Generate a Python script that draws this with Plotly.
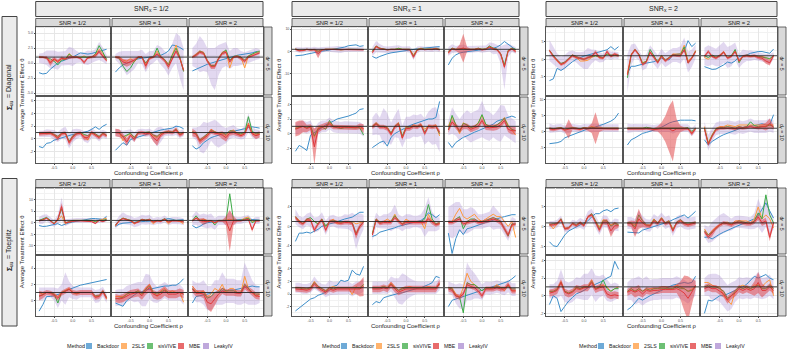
import plotly.graph_objects as go

# ---------------- data ----------------
RHO = [-0.9, -0.8, -0.7, -0.6, -0.5, -0.4, -0.3, -0.2, -0.1, 0.0,
       0.1, 0.2, 0.3, 0.4, 0.5, 0.6, 0.7, 0.8, 0.9]
TRUE_EFFECT = 1.0
METHODS = ["Backdoor", "2SLS", "sisVIVE", "MBE", "LeakyIV"]
SIGMA_LABELS = ["Diagonal", "Toeplitz"]
SNRX_LABELS = ["1/2", "1", "2"]
SNR_LABELS = ["1/2", "1", "2"]
DY_LABELS = ["5", "10"]

# panel order: row (Diag d5, Diag d10, Toep d5, Toep d10) x column (SNRx 1/2,1,2 each with SNR 1/2,1,2)
BACKDOOR = [
 [-1.6,-1.8,-1.7,-1.0,-0.5,0.0,0.3,0.6,0.8,1.0,1.4,1.7,1.6,1.5,1.6,1.8,2.0,2.2,2.3],
 [-1.5,-0.8,-0.3,0.0,0.3,0.5,0.7,0.8,0.9,1.0,1.1,1.2,1.3,1.6,2.0,3.0,2.9,2.6,2.2],
 [-1.3,-1.0,-0.8,-0.5,-0.2,0.0,0.2,0.4,0.6,0.8,1.0,1.2,1.3,1.4,1.5,1.5,1.7,1.9,2.0],
 [-1.9,-1.8,-1.6,-1.2,-0.8,-0.5,-0.2,0.2,0.4,0.7,1.0,1.3,1.6,2.0,2.6,2.9,3.0,2.3,2.6],
 [-2.2,-3.0,-2.2,-1.5,-1.0,-0.6,-0.3,0.0,0.3,0.5,0.8,1.0,1.2,1.4,1.6,1.8,2.0,2.1,2.2],
 [-6.0,-3.0,-1.5,-0.7,-0.3,0.0,0.2,0.4,0.6,0.8,1.0,1.2,1.5,2.0,3.0,4.5,3.2,2.0,0.8],
 [-6.1,-5.6,-2.6,-3.2,-2.5,-1.5,-0.7,0.0,0.5,0.9,1.2,1.5,1.8,2.2,2.5,2.7,3.6,2.7,3.6],
 [-4.0,-2.0,-2.0,-1.8,-1.4,-1.1,-0.9,-0.7,-0.2,0.3,0.0,-0.2,1.2,1.5,1.7,2.3,5.3,3.6,4.6],
 [-2.1,-2.6,-2.9,-2.8,-2.3,-1.6,-0.8,-1.1,-0.5,0.8,1.0,1.2,1.7,2.0,2.2,2.2,2.0,1.7,2.9],
 [-1.2,-1.4,-0.7,-0.6,-0.2,0.0,0.2,0.4,0.6,0.7,0.8,0.9,1.0,1.2,1.5,1.9,1.5,2.0,2.3],
 [-1.8,-1.2,-0.6,-1.0,-0.1,0.1,0.3,0.5,0.7,0.9,1.1,1.3,1.4,1.5,1.6,1.7,2.0,1.9,1.6],
 [-1.1,-1.6,-1.3,-0.6,-0.2,0.2,0.4,0.6,0.8,1.0,1.1,1.2,1.3,1.4,1.6,1.8,1.9,1.8,1.7],
 [-2.4,-1.6,-1.9,-2.3,-0.2,0.1,0.5,0.8,1.2,1.4,1.7,2.0,2.1,2.3,2.4,2.6,2.8,3.3,3.4],
 [-1.9,-1.5,-1.2,-1.0,-1.7,-0.5,0.0,0.3,0.6,0.9,1.1,1.3,1.5,1.7,1.8,2.0,2.0,2.2,4.4],
 [-1.2,-1.9,-1.2,-0.8,-0.5,-0.3,0.0,0.2,0.4,0.6,0.9,1.1,1.3,1.7,1.9,2.0,2.3,2.4,2.2],
 [-3.8,-3.7,-3.5,-3.1,-2.0,-1.5,-1.0,-0.5,0.0,0.5,0.8,1.0,1.3,1.8,2.2,2.6,3.2,4.0,5.7],
 [-4.2,-2.6,-2.0,-1.2,-0.6,-0.3,0.0,0.4,0.8,1.3,2.0,2.6,3.0,3.3,3.5,3.5,3.6,3.5,3.3],
 [-2.6,-4.2,-3.1,-2.3,-1.6,-1.0,-0.5,0.0,0.5,0.8,1.2,1.5,1.7,1.8,2.0,2.4,2.0,2.0,5.2],
 [-1.2,-1.6,-1.5,-1.2,-0.8,-0.4,-1.2,-0.5,0.0,0.3,0.6,1.0,1.2,1.5,1.8,1.8,1.6,1.4,2.8],
 [-1.6,-0.6,-0.2,0.0,0.2,0.3,0.4,0.5,0.6,0.6,0.7,0.8,1.0,1.3,1.8,1.5,1.0,1.2,1.3],
 [-1.2,-2.2,-1.6,-0.5,0.0,0.3,0.5,0.7,0.8,0.9,1.0,1.2,1.3,1.5,1.6,1.6,1.4,1.2,1.1],
 [-3.1,-1.4,-1.4,-1.2,-1.4,-1.0,-0.6,0.0,0.3,0.5,0.7,1.0,1.2,1.5,1.7,1.9,2.4,2.9,2.9],
 [-2.1,-1.8,-1.2,-1.0,-0.8,-0.5,-0.3,0.0,0.2,0.3,0.5,0.8,1.0,1.2,1.8,2.8,2.4,1.8,2.4],
 [-1.4,-5.6,-2.5,-0.7,-1.7,-0.5,-0.3,0.0,0.2,0.5,0.8,1.0,1.3,1.5,1.8,2.0,2.2,2.4,2.4],
 [-3.7,-4.7,-4.9,-3.4,-2.0,-1.0,-0.5,0.0,0.5,1.0,1.5,2.5,3.3,3.3,4.0,4.3,3.8,4.5,4.7],
 [-1.3,-1.4,-1.5,-1.5,-0.8,-0.5,-0.2,0.0,0.4,0.7,1.0,1.3,1.8,2.3,2.6,3.0,2.2,3.0,3.9],
 [-2.6,-2.5,-3.0,-2.3,-1.8,-1.3,-0.8,-0.4,0.0,0.4,0.8,1.2,1.7,2.0,2.8,4.5,6.0,4.0,2.2],
 [-1.3,-0.5,0.5,0.5,0.6,0.8,0.9,1.2,1.4,1.6,1.8,1.9,2.0,2.1,2.2,2.3,2.4,2.5,2.6],
 [-0.3,-0.5,-0.7,0.0,0.4,0.7,1.0,1.1,1.3,1.4,1.5,1.6,1.7,1.8,1.8,1.9,1.9,2.2,2.7],
 [-0.3,0.5,0.6,0.7,0.8,0.9,1.0,1.1,1.2,1.2,1.3,1.3,1.4,1.5,1.6,1.7,1.8,1.7,1.7],
 [-2.7,-2.2,-1.7,-1.2,-0.8,-0.6,-0.2,0.0,0.3,0.6,1.2,1.4,2.2,2.0,2.2,3.8,3.2,3.0,4.4],
 [-1.7,-1.2,-1.4,-0.6,-0.4,-0.2,0.0,0.1,0.2,0.4,0.6,0.7,0.9,1.0,1.2,1.5,1.8,2.8,2.6],
 [-2.0,-1.0,-0.8,-0.6,-0.4,-0.2,0.0,0.2,0.4,0.6,0.8,1.0,1.2,1.5,1.6,1.8,2.0,2.4,2.9],
 [-1.0,0.0,-0.3,-1.8,-1.2,-0.6,-0.2,0.2,0.4,0.6,0.9,1.1,1.3,1.5,1.7,2.0,2.2,3.9,3.0],
 [-1.6,-1.3,-0.8,-0.3,-0.5,-0.2,0.0,0.2,0.4,0.6,0.8,1.0,1.2,1.3,1.4,1.5,1.4,1.5,2.2],
 [-2.0,-0.5,-0.6,-0.3,0.0,0.0,0.2,0.4,0.6,0.9,1.0,1.3,1.8,2.2,2.0,2.2,2.4,2.0,1.8],
]

TSLS = [
 [1.0,1.0,0.9,0.2,0.6,0.1,0.8,0.6,1.6,1.0,1.0,0.9,1.2,0.8,1.0,1.4,2.3,1.6,0.6],
 [1.0,1.0,0.5,0.3,0.8,0.2,1.0,1.0,-0.3,0.8,1.0,2.0,1.0,0.6,-0.2,1.5,3.0,1.0,-1.2],
 [1.0,1.5,2.0,1.8,0.5,-0.5,-0.5,0.8,1.8,2.0,-0.8,1.0,1.2,1.0,-0.8,1.2,1.5,1.8,2.0],
 [1.2,0.5,0.5,1.0,0.8,0.9,0.0,0.8,1.0,1.0,1.2,1.0,0.8,1.0,1.0,0.9,0.9,1.0,0.9],
 [0.0,2.5,1.5,1.0,0.8,1.0,1.0,1.5,1.0,1.0,1.0,-1.5,1.0,1.5,1.0,1.2,1.0,1.5,1.0],
 [-0.5,1.5,1.0,1.2,1.5,1.0,1.0,1.0,1.5,1.0,1.2,2.0,1.5,1.0,-1.0,-6.5,0.5,1.5,0.5],
 [2.5,1.0,-0.5,-1.5,-1.0,0.2,1.2,0.5,-0.5,-0.5,-0.3,0.5,1.0,0.5,0.3,1.5,1.0,1.0,1.0],
 [-4.0,1.5,2.8,1.5,-1.0,-0.5,2.0,0.8,-0.5,1.2,-0.2,0.5,1.5,1.5,1.5,4.0,-0.5,0.5,2.5],
 [0.5,0.0,1.0,0.5,1.2,2.2,0.5,0.8,2.5,-0.5,0.8,1.0,0.8,1.0,0.8,0.8,0.5,0.0,1.0],
 [0.8,0.9,0.8,0.9,0.6,0.2,0.8,0.9,-0.5,0.4,0.9,1.0,0.4,-0.2,1.0,0.7,0.3,0.9,0.5],
 [1.0,1.0,-0.3,0.5,0.8,0.3,1.0,1.0,0.9,1.0,0.5,0.2,0.8,1.0,1.2,1.0,1.6,0.8,1.0],
 [1.2,0.8,-0.3,0.2,0.6,1.5,1.2,0.8,0.9,0.5,1.2,1.4,0.9,0.6,1.0,2.5,1.0,0.6,0.8],
 [0.8,1.0,1.0,0.8,1.0,-0.5,0.8,1.0,1.0,1.5,1.0,1.0,0.9,1.0,1.0,1.0,0.9,0.8,0.6],
 [1.0,1.5,1.0,1.0,0.9,0.0,1.0,1.5,-0.5,1.0,0.8,1.2,1.0,1.3,0.6,1.1,1.0,1.2,-0.3],
 [1.0,2.3,1.2,0.0,1.5,1.2,0.8,1.0,1.5,2.5,1.2,1.0,1.0,1.2,1.5,2.2,1.2,0.5,-0.2],
 [1.0,0.8,1.0,1.2,0.5,1.0,1.2,1.0,0.8,1.2,1.0,1.5,1.2,1.0,1.0,1.0,1.0,1.0,1.0],
 [1.0,1.0,1.2,1.0,1.0,1.2,1.0,0.8,1.0,1.0,1.0,1.0,0.8,1.0,1.0,1.0,1.0,-0.5,1.0],
 [1.5,-3.5,-1.0,1.0,1.5,1.5,2.0,1.8,1.5,2.0,2.0,2.0,2.0,2.2,2.0,2.2,2.0,2.2,2.0],
 [1.0,1.5,2.0,1.0,-0.5,1.0,3.0,-0.5,0.5,1.0,1.0,1.2,1.0,1.0,1.0,0.5,1.0,1.5,2.0],
 [-1.5,1.0,2.0,1.5,1.0,-0.5,0.5,1.5,1.0,1.5,-0.5,1.0,0.8,1.5,-0.5,1.0,1.0,0.5,-0.5],
 [1.0,2.0,1.0,1.5,1.0,1.0,0.0,1.0,1.0,1.0,1.5,1.0,1.0,1.0,2.0,2.5,0.5,1.0,1.0],
 [2.0,1.2,0.5,1.5,1.0,1.0,0.5,1.5,0.0,1.0,1.5,0.5,0.8,1.0,0.8,1.0,0.5,0.8,1.0],
 [-1.5,1.5,0.8,1.0,1.5,1.0,2.5,1.0,0.5,1.5,1.0,0.8,1.0,1.0,-0.5,2.5,1.0,0.5,0.5],
 [1.0,1.0,2.5,3.7,2.0,1.5,2.0,2.5,1.5,1.0,1.5,2.0,2.5,2.0,2.0,1.0,0.0,1.0,-2.3],
 [0.8,-0.5,0.8,2.0,-0.3,-0.2,0.8,0.5,1.2,0.5,2.5,3.2,1.5,0.0,1.8,1.5,0.5,1.0,0.5],
 [1.0,1.0,0.5,2.0,1.0,0.5,0.5,2.0,1.0,2.3,1.0,1.5,-0.5,1.0,1.5,1.0,0.5,1.0,1.0],
 [-0.5,-2.0,-1.0,0.0,0.5,1.0,1.2,0.5,1.5,1.5,1.5,1.5,1.0,2.0,5.0,2.0,3.0,2.0,-0.3],
 [1.0,0.8,1.0,1.0,0.8,0.5,1.0,1.2,1.5,1.0,0.8,1.0,1.0,1.0,1.0,0.5,0.5,1.2,0.2],
 [0.5,0.5,0.5,0.8,1.0,1.0,1.2,0.8,1.5,2.0,1.0,0.5,1.2,1.5,1.0,1.2,1.0,1.0,-0.2],
 [1.8,1.2,1.0,1.2,0.5,0.8,1.5,1.2,2.0,1.0,1.5,1.5,1.0,1.0,3.0,1.5,1.0,0.5,0.8],
 [1.0,1.0,1.0,0.8,1.0,2.0,1.2,0.8,0.5,1.0,1.2,1.0,1.0,1.0,1.0,-0.1,1.2,0.8,1.5],
 [1.0,1.0,1.0,1.2,1.0,1.8,1.2,0.5,1.0,1.0,1.2,1.0,1.0,1.0,1.0,1.2,1.0,1.0,1.5],
 [1.0,1.0,0.0,-0.5,1.0,3.3,2.0,1.5,1.0,0.5,1.0,0.8,1.0,1.5,1.0,0.5,1.5,0.5,0.5],
 [0.5,0.5,0.8,1.6,0.5,0.3,0.5,1.0,0.8,1.0,1.0,1.8,0.8,1.0,1.2,1.0,0.5,0.8,1.0],
 [0.5,0.8,0.5,0.8,0.5,0.7,0.8,0.8,0.8,1.0,1.0,0.8,0.8,1.2,1.0,0.8,0.5,0.8,1.0],
 [1.5,1.5,1.2,1.0,1.0,0.0,-0.5,-1.0,0.5,1.0,1.2,1.0,0.8,1.2,1.2,1.0,1.5,1.8,0.0],
]

SISVIVE = [
 [1.0,1.0,0.8,0.7,0.3,-0.3,0.5,0.6,1.5,1.0,1.0,1.0,1.0,0.9,1.0,1.5,2.9,1.8,0.6],
 [1.0,0.8,-0.5,-1.4,-0.8,0.3,0.9,1.0,0.0,0.9,1.0,2.5,1.0,0.6,-0.3,1.3,2.5,1.0,-1.4],
 [1.0,1.4,2.0,1.7,0.4,-0.4,-0.4,0.8,1.7,2.2,0.5,1.1,1.2,1.0,0.5,1.2,1.5,1.8,1.9],
 [1.1,0.6,0.6,1.0,0.8,0.9,0.2,0.8,1.0,1.0,1.2,1.0,0.8,1.0,1.0,1.0,0.9,1.0,0.9],
 [0.2,2.4,1.5,1.0,0.8,1.0,1.0,1.4,1.0,1.0,1.0,-2.0,0.8,1.4,1.0,1.1,1.0,1.3,1.0],
 [0.0,1.5,1.0,1.2,1.2,1.0,1.0,1.0,1.5,1.0,1.2,2.5,1.5,1.0,-1.0,-6.0,0.5,1.5,1.0],
 [2.5,1.0,-0.2,-1.2,-0.8,0.3,1.2,0.8,0.2,0.0,0.5,0.8,1.0,0.8,0.5,1.5,1.2,1.2,1.2],
 [-5.3,1.2,2.8,1.5,-1.2,-0.5,2.8,0.8,-0.8,1.0,-0.3,0.5,1.3,1.2,1.2,3.5,-1.0,0.3,2.3],
 [1.0,0.5,1.2,0.6,1.0,2.0,0.5,1.0,2.8,-1.0,0.8,1.2,1.0,1.0,0.8,0.6,0.3,0.2,1.0],
 [0.9,0.9,1.0,1.0,0.7,0.4,0.9,1.0,-0.4,0.5,0.8,1.0,0.7,0.5,1.0,0.8,0.4,0.9,0.6],
 [1.0,1.0,0.3,0.6,0.9,0.2,1.0,1.0,1.0,1.1,0.6,0.4,0.9,1.0,1.2,1.1,1.5,0.7,1.0],
 [1.1,0.9,-0.2,0.3,0.7,1.3,1.1,0.9,1.0,0.7,1.3,1.2,0.9,0.8,1.0,3.5,1.2,0.8,0.9],
 [0.7,0.9,1.0,0.8,1.0,-0.3,0.7,0.9,0.6,1.8,1.0,0.8,0.7,0.8,0.8,0.9,0.8,0.8,-0.2],
 [1.0,1.4,1.0,1.0,0.8,0.1,1.0,1.4,-0.3,0.8,0.8,1.0,1.0,1.2,0.2,1.0,0.9,1.0,0.0],
 [0.5,2.5,1.2,0.3,1.4,1.2,0.8,1.0,1.4,2.6,1.3,1.0,1.0,1.2,1.6,2.1,1.0,0.6,0.4],
 [1.0,0.8,1.0,1.2,0.6,1.0,1.2,1.0,0.8,1.2,1.0,1.3,1.0,1.0,1.0,1.0,1.0,1.0,1.0],
 [1.0,1.0,1.2,1.0,1.0,1.3,1.0,0.8,1.0,1.0,1.0,1.0,0.8,1.0,1.0,1.0,1.2,0.0,1.0],
 [1.0,-3.8,-1.2,0.8,1.2,1.2,1.5,1.2,1.0,1.5,1.2,1.5,3.0,1.8,1.5,1.5,1.5,2.0,1.5],
 [1.0,1.5,2.3,1.0,-0.3,1.5,6.0,0.0,0.5,1.0,1.0,1.0,1.0,1.0,1.0,0.5,1.0,1.0,1.5],
 [-1.0,1.0,2.0,1.5,1.0,0.0,0.5,1.5,1.2,1.5,0.5,1.0,0.8,1.8,0.5,1.0,1.0,1.0,0.5],
 [1.0,3.0,1.0,1.0,0.5,1.0,-1.0,1.0,1.0,1.0,12.5,1.0,1.0,1.0,1.5,2.0,0.0,1.0,1.0],
 [2.0,1.0,0.6,1.5,1.8,1.0,0.5,1.5,0.0,1.0,1.2,1.0,0.8,1.0,1.0,0.8,-1.5,0.0,1.0],
 [-1.5,1.5,0.8,1.0,1.0,1.0,2.2,1.2,0.5,1.0,1.0,1.0,1.0,1.0,1.5,4.5,1.5,0.5,0.8],
 [1.0,0.8,1.5,2.0,-0.5,1.0,1.5,1.5,1.0,1.0,1.2,1.5,1.8,1.5,1.0,-0.5,-2.0,0.5,0.5],
 [0.5,0.8,0.8,2.0,-0.5,-0.2,0.8,0.5,1.0,0.5,2.5,3.3,1.5,-0.5,1.5,1.5,0.2,0.8,0.5],
 [1.0,1.0,0.0,3.0,1.5,0.5,0.3,1.8,1.0,2.2,1.0,1.5,-0.8,1.2,1.8,1.0,1.0,1.0,1.2],
 [-1.0,-2.0,-1.3,-0.5,0.5,1.0,0.8,0.8,1.0,1.5,1.2,1.0,0.8,1.5,3.5,2.0,8.0,3.0,1.0],
 [0.5,0.8,1.0,1.0,0.8,-0.3,1.0,1.2,1.4,1.0,0.9,1.0,1.0,1.0,1.0,0.6,0.6,1.2,0.4],
 [0.2,0.3,0.4,0.8,1.0,1.0,1.2,0.8,1.4,1.8,1.0,0.8,1.0,1.3,1.0,1.0,1.0,1.0,0.8],
 [1.5,1.0,1.0,1.0,0.3,0.5,1.0,1.0,1.5,1.2,1.2,1.2,1.0,1.0,2.0,1.5,1.0,0.8,0.8],
 [1.0,1.0,0.8,0.8,1.0,1.8,1.2,0.8,0.5,1.0,0.8,1.0,1.0,1.0,1.0,1.0,1.0,1.0,1.5],
 [1.0,1.0,1.0,1.2,1.0,1.6,1.0,0.6,0.8,1.0,1.0,1.0,1.0,1.0,1.0,1.0,1.0,1.0,1.6],
 [1.0,0.8,-0.3,-0.5,-3.0,1.8,1.5,1.5,1.0,0.5,1.0,1.0,1.0,1.2,1.0,1.0,1.2,0.8,0.8],
 [0.5,0.5,0.7,1.5,0.5,0.3,0.5,0.9,0.8,1.0,1.0,1.6,0.8,1.0,1.8,0.8,0.5,0.8,0.8],
 [0.5,0.8,0.5,0.8,0.5,0.8,0.6,0.8,0.8,0.8,0.8,0.8,0.8,1.0,0.8,0.8,0.5,0.6,1.0],
 [1.0,1.2,1.0,1.0,0.8,0.5,-0.3,0.0,0.5,1.0,0.8,1.0,0.8,1.0,1.2,0.8,0.8,1.2,0.8],
]

MBE = [
 [1.0,1.0,0.9,0.0,0.7,0.3,0.8,0.7,1.0,1.0,1.0,0.8,0.1,0.9,1.0,1.2,1.9,1.2,0.4],
 [1.0,0.9,0.2,0.0,0.2,0.5,1.0,1.0,-0.5,0.8,1.0,1.5,1.0,0.4,-0.6,0.8,2.0,0.8,-1.2],
 [1.0,1.3,1.8,1.6,0.3,-0.6,-0.6,0.7,1.6,1.8,0.2,1.0,1.1,0.8,0.3,1.0,1.2,1.5,1.7],
 [1.0,0.4,0.5,0.9,0.7,0.8,-1.0,0.7,1.0,0.9,1.1,0.9,0.8,0.9,0.9,0.9,0.8,0.9,0.8],
 [-0.5,2.2,1.3,1.0,0.7,0.9,0.9,1.2,0.9,0.9,0.8,-2.5,0.6,1.2,0.8,1.0,0.9,1.2,0.8],
 [-0.5,1.2,0.8,1.0,1.5,1.0,0.8,0.9,1.2,0.8,1.0,2.0,1.2,0.8,-1.2,-7.0,0.2,1.2,0.0],
 [2.5,0.8,-0.3,-1.5,-1.0,0.0,1.0,0.5,0.3,0.0,0.5,0.8,2.0,0.5,0.3,2.2,0.8,1.5,1.0],
 [-4.5,1.2,2.7,1.3,-1.5,-0.8,2.0,0.5,-1.0,0.8,-0.5,0.3,1.2,1.0,1.0,2.7,-1.0,0.3,2.2],
 [0.8,2.2,0.8,0.3,1.0,2.0,0.3,0.8,2.2,-0.5,0.8,1.0,0.8,1.0,0.5,0.3,-0.5,-1.0,1.0],
 [0.8,0.8,0.9,0.9,0.6,0.1,0.8,0.9,-0.6,0.3,0.8,0.9,0.2,0.2,1.0,0.6,0.2,0.8,0.5],
 [1.0,0.9,0.4,-0.5,0.6,-0.1,0.9,1.0,0.8,0.9,0.2,-0.3,0.6,1.0,1.1,1.0,1.4,0.6,0.9],
 [1.0,0.7,-0.4,0.0,0.5,1.2,0.9,0.8,0.6,0.2,0.9,1.0,0.7,0.5,0.8,2.2,0.8,0.5,0.7],
 [0.6,0.8,1.0,0.7,0.9,-1.8,0.6,0.9,1.0,1.3,0.9,0.9,0.8,0.9,0.9,0.8,0.8,1.0,0.7],
 [0.9,1.3,0.9,0.9,0.7,-0.1,0.9,1.3,-0.6,0.7,0.7,1.0,0.9,1.2,0.0,1.0,0.9,1.0,0.2],
 [0.5,1.6,1.0,0.5,1.0,1.0,0.6,0.8,1.0,1.8,0.9,0.8,0.8,0.9,1.2,1.8,0.6,0.4,0.4],
 [0.8,0.6,0.8,1.0,0.4,0.8,1.0,0.8,0.6,1.0,0.8,1.0,1.0,0.8,0.8,0.8,0.8,0.8,0.8],
 [0.8,0.8,1.0,0.8,0.8,1.0,0.8,0.6,0.8,0.8,0.8,0.8,0.2,0.8,0.8,0.8,0.8,-0.7,0.8],
 [0.8,-4.0,-1.5,0.5,1.0,1.0,1.2,1.0,0.8,1.2,1.0,1.2,1.5,1.2,1.2,1.5,1.5,2.5,1.2],
 [0.8,1.2,2.0,0.8,-0.5,1.5,7.0,0.0,0.3,0.8,0.8,0.8,0.8,0.8,0.5,-0.3,1.0,0.5,1.2],
 [-1.2,0.8,1.8,1.3,0.8,-0.2,0.3,1.3,1.0,1.3,0.3,0.8,0.6,1.5,0.3,0.8,0.8,0.8,0.3],
 [0.8,2.0,1.0,0.5,0.5,0.8,0.0,0.8,0.8,0.8,-3.5,0.8,0.8,0.8,1.2,1.5,-3.0,0.8,0.8],
 [1.8,0.9,0.5,1.3,1.3,-0.8,0.5,1.3,-0.8,1.0,1.0,0.8,0.6,0.8,0.8,0.6,-1.8,0.0,0.8],
 [-1.8,1.3,0.6,0.8,0.8,0.8,1.8,1.0,0.4,0.8,0.8,0.8,0.8,0.8,0.8,1.5,0.8,0.3,0.6],
 [0.8,0.8,1.2,1.5,0.5,0.8,1.0,1.2,0.8,0.8,1.0,1.2,1.5,1.2,0.8,-0.5,-1.8,0.3,0.5],
 [0.5,0.5,0.8,1.8,-0.5,-0.3,0.8,0.3,1.0,0.3,2.5,3.0,1.2,-0.8,1.2,1.2,-1.0,0.3,0.3],
 [0.8,0.8,-0.5,2.0,1.0,0.3,0.2,1.5,0.8,2.0,0.8,1.2,-1.0,1.0,1.5,0.8,0.5,0.8,1.0],
 [-1.2,-2.5,-1.5,-0.3,0.5,1.0,0.8,0.5,1.0,1.2,1.0,0.8,0.8,1.2,2.5,1.0,1.5,-2.6,1.0],
 [0.6,0.7,1.0,0.9,0.7,0.3,0.9,1.1,1.4,1.0,0.9,1.0,1.0,1.0,1.0,0.4,0.5,1.1,0.3],
 [0.3,0.2,0.3,0.6,0.8,0.9,1.0,0.6,1.2,1.6,0.8,0.6,0.8,1.2,0.8,0.8,0.8,1.0,0.8],
 [1.4,0.9,0.9,0.8,-0.2,-0.4,0.2,0.8,1.2,1.0,1.0,1.0,0.9,0.9,1.8,1.3,1.0,0.6,0.5],
 [0.8,0.8,0.7,0.6,0.8,1.6,1.0,0.6,0.3,0.8,0.6,0.8,0.8,0.8,0.8,0.7,0.8,0.8,1.2],
 [0.8,0.8,0.8,1.0,0.8,1.5,0.8,0.3,0.6,0.8,0.8,0.8,0.8,0.8,0.8,0.8,0.8,0.8,1.8],
 [0.8,0.6,-0.3,-0.5,0.0,1.5,1.2,1.0,0.5,-0.3,0.8,0.8,0.8,1.0,0.8,0.8,1.5,0.5,0.5],
 [0.3,0.4,0.6,1.5,0.4,0.2,0.4,0.8,0.7,0.9,0.9,1.5,0.7,0.9,1.0,0.2,0.0,0.1,0.0],
 [0.4,0.6,0.4,0.6,0.2,0.6,0.5,0.6,0.6,0.7,0.7,0.7,0.7,0.8,0.6,0.3,-0.3,0.4,1.2],
 [0.8,1.0,0.8,0.8,0.5,0.2,-0.5,0.0,0.3,0.8,0.6,0.8,0.6,0.8,1.5,0.6,0.6,1.0,0.6],
]

MBE_SD = [
 [0.2,0.2,0.3,0.5,0.3,0.3,0.3,0.2,0.3,0.2,0.2,0.2,0.3,0.2,0.2,0.3,0.3,0.3,0.2],
 [0.2,0.3,0.5,0.6,0.5,0.3,0.2,0.2,0.6,0.3,0.2,0.3,0.3,0.3,0.5,0.4,0.4,0.3,0.3],
 [0.2,0.3,0.3,0.3,0.3,0.4,0.4,0.3,0.3,0.3,0.3,0.2,0.2,0.3,0.3,0.2,0.2,0.2,0.2],
 [0.4,0.5,0.4,0.3,0.3,0.4,2.0,0.4,0.3,0.3,0.3,0.3,0.3,0.3,0.3,0.3,0.3,0.3,0.3],
 [0.6,0.5,0.4,0.3,0.3,0.3,0.3,0.3,0.3,0.3,0.4,0.8,0.4,0.3,0.3,0.3,0.3,0.3,0.3],
 [1.0,0.5,0.5,2.0,6.5,1.0,0.4,0.4,0.4,0.4,0.4,0.5,0.5,0.5,0.8,1.0,0.5,0.5,0.8],
 [0.4,0.4,0.4,0.4,0.4,0.4,0.4,0.4,0.4,0.4,0.4,0.4,0.6,0.4,0.4,0.5,0.4,0.4,0.4],
 [0.5,0.4,0.4,0.4,0.4,0.4,0.5,0.4,0.4,0.4,0.4,0.4,0.4,0.4,0.4,0.5,0.5,0.4,0.4],
 [0.4,0.5,0.4,0.4,0.4,0.4,0.4,0.4,0.4,0.5,0.4,0.4,0.4,0.4,0.5,0.6,0.8,0.8,0.4],
 [0.3,0.3,0.3,0.3,0.3,0.4,0.3,0.3,0.4,0.4,0.3,0.3,0.4,0.4,0.3,0.3,0.3,0.3,0.3],
 [0.6,0.6,0.4,0.6,0.3,0.4,0.3,0.3,0.3,0.3,0.6,0.8,0.4,0.3,0.3,0.3,0.4,0.3,0.3],
 [0.6,0.5,0.5,0.4,0.4,0.4,0.3,0.3,0.6,0.6,0.4,0.4,0.3,0.3,0.3,0.4,0.3,0.5,0.5],
 [1.0,1.0,0.8,0.5,0.4,2.5,0.5,0.4,0.4,0.4,0.3,0.3,0.3,0.3,0.3,0.3,0.3,0.4,0.6],
 [0.3,0.3,0.3,0.3,0.3,0.3,0.3,0.3,0.3,0.3,0.3,0.3,0.3,0.3,0.3,0.3,0.3,0.3,0.3],
 [0.4,0.4,0.4,0.4,0.4,0.4,0.4,0.4,0.4,0.4,0.4,0.4,0.4,0.4,0.4,0.4,0.4,0.5,0.5],
 [0.5,0.5,0.4,0.4,0.6,3.0,0.5,0.4,0.4,0.4,0.6,1.5,5.0,1.0,0.4,0.4,0.4,0.4,0.4],
 [0.4,0.4,0.4,0.4,0.4,0.4,0.4,0.5,0.8,2.0,4.0,7.0,9.5,3.0,1.0,0.5,0.4,0.6,0.4],
 [0.5,0.6,0.5,0.5,0.5,0.5,0.5,0.5,0.5,0.5,0.5,0.5,0.5,0.5,0.6,0.8,1.2,1.5,0.6],
 [0.3,0.3,0.3,0.3,0.3,0.5,1.5,0.3,0.3,0.3,0.3,0.3,0.3,0.3,0.3,0.4,0.3,0.3,0.3],
 [0.4,0.4,0.4,0.4,0.4,0.4,0.4,0.4,0.4,0.4,0.4,0.4,0.4,0.4,0.4,0.4,0.4,0.4,0.4],
 [0.4,0.5,0.8,1.5,0.5,0.4,0.4,0.4,0.4,2.0,9.0,2.0,0.4,0.4,0.4,0.5,1.0,0.4,0.4],
 [0.4,0.4,0.4,0.4,0.4,0.5,0.4,0.4,0.5,0.4,0.4,0.4,0.4,0.4,0.4,0.4,0.8,0.6,0.4],
 [0.4,0.4,0.4,0.4,0.4,0.4,0.4,0.4,0.4,0.4,0.4,0.4,0.4,0.4,0.4,0.4,0.4,0.4,0.4],
 [0.4,0.4,0.4,0.4,0.4,0.4,0.4,0.4,0.4,0.4,0.4,0.4,0.4,0.4,0.5,0.6,0.6,0.4,0.4],
 [0.4,0.4,0.4,0.4,0.4,0.4,0.4,0.4,0.4,0.4,0.4,0.4,0.4,0.6,0.6,0.8,1.5,1.0,0.5],
 [0.5,0.8,2.0,2.5,1.0,0.5,0.5,0.5,0.5,0.5,0.5,0.5,0.5,0.5,0.5,0.5,0.5,0.5,0.5],
 [0.5,0.6,0.8,0.5,0.5,0.5,0.5,0.5,0.5,0.5,0.5,0.5,0.5,0.5,0.8,0.8,0.8,1.0,0.5],
 [0.6,0.4,0.3,0.3,0.3,0.3,0.3,0.3,0.3,0.3,0.3,0.3,0.3,0.3,0.3,0.3,0.3,0.3,0.3],
 [0.5,0.5,0.5,0.5,0.5,0.5,0.5,0.5,0.5,0.5,0.5,0.5,0.6,0.6,0.5,0.5,0.5,0.5,0.5],
 [0.4,0.4,0.4,0.5,0.8,1.0,0.8,0.5,0.4,0.4,0.4,0.4,0.4,0.4,0.4,0.4,0.4,0.4,0.4],
 [0.4,0.4,0.4,0.4,0.4,0.4,0.4,0.4,0.4,0.4,0.4,0.4,0.4,0.4,0.4,0.5,0.8,1.2,1.5],
 [0.5,0.5,0.5,0.5,0.5,0.5,0.5,0.5,0.5,0.5,0.5,0.5,0.5,0.5,0.5,0.5,0.5,0.5,0.5],
 [0.4,0.4,0.4,0.4,0.4,0.4,0.4,0.4,0.4,0.4,0.4,0.4,0.4,0.4,0.4,0.4,0.4,0.4,0.4],
 [0.4,0.4,0.4,0.4,0.4,0.4,0.4,0.4,0.4,0.4,0.4,0.4,0.4,0.4,0.4,0.4,0.4,0.4,0.4],
 [0.4,0.4,0.6,0.6,0.4,0.4,0.4,0.4,0.4,0.4,0.4,0.4,0.4,0.5,1.0,2.0,2.5,1.5,0.5],
 [0.4,0.4,0.4,0.4,0.4,0.4,0.4,0.4,0.4,0.4,0.4,0.4,0.4,0.8,1.2,0.8,0.4,0.4,0.4],
]

LEAKYIV = [
 [0.8,0.8,0.9,0.6,0.6,0.4,0.8,0.8,1.2,1.0,1.0,0.9,0.8,0.9,1.0,1.3,2.0,1.4,0.6],
 [1.0,0.9,0.5,0.0,0.3,0.5,1.0,1.0,0.0,0.8,1.0,1.8,1.2,0.5,-0.3,1.2,2.5,1.0,-1.0],
 [1.0,1.2,1.5,1.2,0.5,-0.5,-1.0,0.5,1.2,1.5,0.5,1.0,1.0,0.8,0.8,1.0,1.2,1.5,1.5],
 [1.0,0.6,0.6,1.0,0.8,0.9,0.0,0.8,1.0,1.0,1.1,1.0,0.8,1.0,1.0,0.9,0.9,1.0,0.9],
 [0.0,2.2,1.4,1.0,0.8,1.0,1.0,1.3,1.0,1.0,0.9,-1.8,0.8,1.3,0.9,1.1,1.0,1.3,0.9],
 [0.0,1.3,1.0,1.2,1.2,1.0,1.0,1.0,1.3,1.0,1.2,2.0,1.3,1.0,-1.5,-7.0,0.5,1.3,0.5],
 [2.5,1.0,-0.3,-1.3,-0.8,0.2,1.0,0.6,0.0,-0.3,0.2,0.8,1.2,0.6,0.4,1.5,1.0,1.2,1.0],
 [-4.0,1.2,2.5,1.3,-1.2,-0.6,2.0,0.6,-0.8,1.0,-0.3,0.5,1.2,1.2,1.2,3.2,-0.8,0.3,2.2],
 [0.8,1.0,1.0,0.5,1.0,2.0,0.5,1.0,2.3,-0.5,0.8,1.0,1.0,1.0,0.8,0.5,0.3,0.0,1.0],
 [0.8,0.8,0.9,0.9,0.6,0.3,0.8,0.9,-0.3,0.5,0.8,0.9,0.4,0.3,0.9,0.7,0.4,0.8,0.6],
 [1.0,0.9,0.5,0.2,0.7,0.3,0.9,1.0,0.9,1.0,0.5,0.3,0.7,1.0,1.1,1.0,1.4,0.7,1.0],
 [1.0,0.8,0.0,0.2,0.5,1.2,1.0,0.6,0.5,0.5,1.0,1.2,0.9,0.7,1.0,2.5,1.0,0.7,0.8],
 [0.7,0.9,1.0,0.8,1.0,-0.5,0.7,1.0,1.0,1.4,1.0,0.9,0.8,0.9,0.9,0.9,0.8,0.8,0.4],
 [1.0,1.4,1.0,1.0,0.8,0.0,1.0,1.4,-0.4,0.8,0.8,1.1,1.0,1.2,0.3,1.0,1.0,1.1,0.0],
 [0.8,1.8,1.2,0.5,1.2,1.2,0.8,1.0,1.3,2.0,1.2,1.0,1.0,1.1,1.4,1.8,1.0,0.6,0.2],
 [1.0,0.8,1.0,1.1,0.6,1.0,1.1,1.0,0.8,1.1,1.0,1.2,1.1,1.0,1.0,1.0,1.0,1.0,1.0],
 [1.0,1.0,1.1,1.0,1.0,1.1,1.0,0.8,1.0,1.0,1.0,1.0,0.8,1.0,1.0,1.0,1.0,-0.3,1.0],
 [1.0,-3.5,-1.0,0.8,1.2,1.2,1.5,1.2,1.0,1.5,1.2,1.5,2.0,1.5,1.5,1.5,1.5,2.0,1.5],
 [1.0,1.5,2.2,1.0,-0.3,1.5,6.0,0.0,0.5,1.0,1.0,1.0,1.0,1.0,1.0,0.5,1.0,1.0,1.5],
 [-1.0,1.0,2.0,1.4,1.0,0.0,0.5,1.4,1.1,1.4,0.4,1.0,0.8,1.6,0.4,1.0,1.0,0.9,0.4],
 [1.0,2.0,1.0,1.0,0.5,1.0,-0.5,1.0,1.0,1.0,2.0,1.0,1.0,1.0,1.5,2.0,0.0,1.0,1.0],
 [2.0,1.0,0.6,1.4,1.4,0.3,0.5,1.4,-0.3,1.0,1.2,0.8,0.8,1.0,0.9,0.8,-1.2,0.2,0.9],
 [-1.5,1.3,0.8,1.0,1.0,1.0,2.0,1.0,0.5,1.0,1.0,1.0,1.0,1.0,0.8,2.5,1.0,0.5,0.6],
 [1.0,1.0,1.5,2.0,1.0,1.0,1.5,1.5,1.0,1.0,1.2,1.5,1.8,1.5,1.0,-0.3,-1.5,0.5,0.5],
 [0.5,0.5,0.8,1.8,-0.3,-0.2,0.8,0.5,1.0,0.5,2.4,3.0,1.3,-0.5,1.4,1.3,-0.3,0.6,0.4],
 [1.0,1.0,0.0,2.0,1.2,0.4,0.3,1.7,1.0,2.1,1.0,1.4,-0.8,1.1,1.6,1.0,0.8,1.0,1.1],
 [-1.0,-2.0,-1.2,-0.3,0.5,1.0,0.9,0.6,1.2,1.3,1.2,1.0,0.9,1.5,3.5,1.5,4.0,1.0,0.8],
 [0.8,0.8,1.0,1.0,0.8,0.3,1.0,1.5,1.4,1.0,0.9,1.0,1.0,1.0,1.0,0.5,0.6,1.1,0.3],
 [0.3,0.4,0.4,0.8,1.0,1.0,1.1,0.8,1.3,1.7,1.0,0.7,1.0,1.3,1.0,1.0,1.0,1.0,0.5],
 [1.5,1.0,1.0,1.0,0.3,0.3,1.0,1.0,1.5,1.2,1.2,1.2,1.0,1.0,2.2,1.5,1.0,0.7,0.7],
 [1.0,1.0,0.8,0.8,1.0,1.8,1.2,0.8,0.5,1.0,0.9,1.0,1.0,1.0,1.0,0.6,1.0,1.0,1.4],
 [1.0,1.0,1.0,1.1,1.0,1.6,1.0,0.5,0.8,1.0,1.0,1.0,1.0,1.0,1.0,1.0,1.0,1.0,1.6],
 [1.0,0.8,0.0,-0.3,-0.5,2.0,1.5,1.3,0.8,0.3,1.0,0.9,1.0,1.2,1.0,0.8,1.3,0.7,0.7],
 [0.5,0.5,0.7,1.5,0.5,0.3,0.5,0.9,0.8,1.0,1.0,1.6,0.8,1.0,1.2,0.6,0.3,0.5,0.5],
 [0.5,0.7,0.5,0.7,0.4,0.7,0.6,0.7,0.7,0.8,0.8,0.8,0.8,1.0,0.8,0.6,0.3,0.6,1.0],
 [1.0,1.2,1.0,1.0,0.8,0.3,-0.3,0.0,0.5,0.9,0.8,0.9,0.8,1.0,1.2,0.8,0.9,1.2,0.6],
]

LEAKYIV_SD = [
 [0.8,0.9,1.2,1.5,1.5,1.5,1.2,1.2,1.5,1.5,1.0,0.8,1.0,1.2,1.0,1.0,1.5,1.2,0.8],
 [0.5,1.0,1.5,2.0,1.8,1.5,1.0,1.2,1.5,1.2,1.0,1.2,1.5,1.5,1.8,2.0,2.5,3.5,3.5],
 [1.5,2.0,3.0,2.5,2.0,3.0,3.5,2.5,2.0,2.0,1.5,1.5,1.5,1.2,1.0,1.0,1.0,1.0,0.8],
 [1.0,1.2,1.2,1.0,1.0,1.2,1.8,1.2,1.0,1.0,1.2,1.5,1.5,1.2,1.2,1.0,1.0,1.0,1.0],
 [2.0,2.5,2.0,1.5,1.5,1.5,1.5,1.5,1.2,1.2,1.5,2.0,1.5,1.2,1.2,1.2,1.2,1.2,1.2],
 [2.0,2.0,1.5,1.5,2.0,1.5,1.5,1.5,1.5,1.5,1.5,2.0,2.5,2.0,4.0,10.0,3.0,1.5,1.5],
 [3.0,2.5,2.0,2.0,2.0,2.0,1.5,1.5,2.0,2.5,3.0,2.0,1.5,1.5,1.2,1.2,1.2,1.0,1.0],
 [5.5,3.0,2.0,1.5,2.0,2.0,2.0,2.0,2.0,2.0,2.0,2.0,2.0,2.0,2.5,3.0,3.0,2.5,2.0],
 [2.5,3.0,2.5,2.5,3.0,3.0,3.0,3.0,2.5,2.0,2.0,1.5,1.5,1.2,1.2,1.2,1.2,1.5,1.0],
 [0.5,0.5,0.6,0.6,0.8,0.8,0.8,1.0,1.2,1.0,0.8,0.6,0.8,1.0,0.8,0.6,0.8,0.6,0.6],
 [0.6,0.6,0.8,1.2,0.8,0.8,0.6,0.6,0.6,0.6,0.8,1.5,1.2,0.6,0.6,0.6,0.8,0.6,0.6],
 [0.8,1.0,2.0,2.5,2.0,1.5,2.0,2.0,1.5,1.2,1.0,1.0,0.8,0.8,1.0,1.5,0.8,0.8,0.6],
 [0.8,0.8,0.8,0.8,0.8,1.2,0.8,0.8,0.8,0.8,0.8,0.8,0.8,0.8,0.8,0.8,0.8,0.8,0.8],
 [1.2,1.5,1.2,2.5,2.0,1.5,1.5,2.0,1.5,1.5,1.5,1.5,1.5,1.5,1.8,2.0,2.5,2.5,2.5],
 [1.0,1.8,1.5,1.5,1.5,2.0,2.0,2.0,2.0,2.5,2.0,2.0,1.5,2.0,2.5,2.0,1.5,1.5,1.5],
 [1.5,1.2,1.2,1.2,1.2,1.5,1.2,1.2,1.2,1.2,1.2,1.2,1.2,1.2,1.2,1.2,1.2,1.2,1.2],
 [1.5,1.2,1.2,1.2,1.2,1.2,1.2,1.2,1.2,1.2,1.2,1.2,1.5,1.2,1.2,1.2,1.2,1.2,1.2],
 [2.0,2.5,2.0,2.0,2.0,2.0,2.0,2.0,2.0,2.0,2.0,2.0,2.0,2.0,2.0,2.0,2.0,2.0,2.0],
 [1.5,2.0,1.5,1.5,1.5,2.0,5.0,1.5,1.2,1.0,1.0,1.0,1.0,1.0,1.0,1.0,1.0,1.0,1.0],
 [1.5,2.0,2.5,2.0,2.0,2.0,2.0,2.0,2.0,2.0,1.5,1.5,1.5,1.5,1.5,1.5,1.5,1.5,1.5],
 [2.0,3.0,2.5,3.0,3.0,3.0,2.5,2.0,2.0,2.0,3.0,2.0,1.5,1.5,1.5,1.5,1.5,1.5,1.5],
 [1.5,1.2,1.2,1.2,1.5,1.5,1.5,1.5,1.5,1.2,1.2,1.2,1.2,1.5,1.5,2.0,3.5,2.5,1.5],
 [1.5,1.5,1.2,1.5,1.5,2.0,2.5,1.5,1.5,1.5,1.5,1.2,1.2,1.5,3.0,3.5,2.0,1.5,1.2],
 [3.0,3.5,3.5,3.0,2.5,2.5,2.5,2.0,1.5,1.5,1.5,1.5,2.5,2.0,1.5,1.5,1.5,1.5,1.0],
 [1.0,1.0,1.0,1.0,1.0,1.0,1.0,1.0,1.2,1.2,1.5,1.5,1.5,1.5,1.5,1.5,1.5,1.5,1.5],
 [1.5,1.5,2.0,2.0,1.5,1.5,1.5,1.5,1.5,1.5,1.5,1.5,1.5,1.5,1.5,1.5,1.5,1.5,1.5],
 [1.5,2.0,2.5,2.5,2.5,2.5,2.0,1.5,1.5,1.5,1.5,1.5,1.5,2.0,3.5,3.0,4.0,3.0,1.5],
 [0.8,0.8,0.6,0.6,0.8,1.2,1.0,2.0,1.0,0.8,0.8,0.6,0.6,0.6,0.6,0.8,0.8,0.6,0.6],
 [1.0,1.0,1.0,1.0,1.0,1.2,1.2,1.5,2.0,1.5,1.2,1.0,1.0,1.0,1.0,1.0,1.0,1.0,1.0],
 [1.0,1.2,1.2,1.5,1.5,1.5,1.5,1.5,2.0,1.5,1.5,1.5,1.5,1.5,2.5,2.0,1.5,1.2,1.0],
 [0.8,0.8,0.8,0.8,0.8,1.0,0.8,0.8,1.0,1.2,1.0,1.0,1.0,1.0,1.0,1.0,1.0,1.0,1.0],
 [1.0,1.0,1.0,1.0,1.0,1.2,1.5,2.0,2.5,2.0,1.5,1.2,1.0,1.0,1.0,1.0,1.0,1.0,1.0],
 [1.0,1.0,1.5,2.0,2.0,3.0,2.5,2.0,1.5,1.2,1.0,1.0,1.0,1.0,1.0,1.0,1.0,1.0,1.0],
 [0.8,0.8,1.0,1.5,1.2,1.2,1.2,1.2,1.2,1.5,1.5,1.5,1.5,1.2,1.2,1.2,1.0,1.0,0.8],
 [1.0,1.2,1.5,1.5,1.5,1.5,1.2,1.2,1.2,1.2,1.2,1.2,1.2,1.2,1.2,1.2,1.2,1.0,1.0],
 [1.0,1.2,1.5,1.5,1.5,1.5,1.5,1.5,1.2,1.2,1.2,1.2,1.2,1.2,1.5,1.2,1.2,1.2,1.0],
]

# y axis range/ticks per panel row and SNR_x block
Y_RANGE = [
    [[-5.3, 6.0], [-19.5, 11.0], [-10.2, 9.2]],
    [[-3.8, 6.6], [-4.0, 5.0], [-9.8, 10.7]],
    [[-13.5, 15.0], [-5.7, 7.9], [-6.75, 9.7]],
    [[-1.9, 5.5], [-3.5, 6.05], [-2.3, 4.5]],
]
Y_TICKS = [
    [[-5, -2.5, 0, 2.5, 5], [-10, 0, 10], [-5, 0, 5]],
    [[-2, 0, 2, 4, 6], [-2, 0, 2, 4], [-5, 0, 5, 10]],
    [[-10, -5, 0, 5, 10], [-4, 0, 4], [-5, 0, 5]],
    [[0, 2, 4], [-2, 0, 2, 4], [-2, 0, 2, 4]],
]
X_TICKS = [-0.5, 0.0, 0.5]

# ---------------- layout geometry (pixels) ----------------
W, H = 789, 354
COL_X = [(35.7, 110), (112, 187), (189, 263),
         (292, 367), (369, 443), (445, 519),
         (546, 622), (624, 699), (701, 777)]
ROW_Y = [(27, 95), (97, 163), (188, 254), (256, 316)]
BLOCK_X = [(35.7, 263), (292, 519), (546, 777)]

COLORS = {"Backdoor": "#3d8ec9", "2SLS": "#ff9a3c", "sisVIVE": "#3cab46",
          "MBE": "#e0393b", "LeakyIV": "#a98bd0"}
FILL_LEAKY = "rgba(160,125,205,0.30)"
FILL_MBE = "rgba(224,57,59,0.50)"
FONT = "Liberation Sans, Arial, sans-serif"

# approximate Arial/Liberation Sans advance widths (em) for text composition
CHAR_W = {"S": .667, "N": .722, "R": .722, "x": .5, " ": .278, "=": .584, "1": .556,
          "/": .278, "2": .556, "d": .556, "Y": .667, "5": .556, "0": .556, "Σ": .62,
          "u": .556, "D": .722, "i": .222, "a": .556, "g": .556, "o": .556, "n": .556,
          "l": .222, "T": .611, "e": .556, "p": .556, "t": .278, "z": .5}


def px(x):
    return x / W


def py(y):
    return 1 - y / H


def fmt(v, dec):
    return f"{v:.1f}" if dec else f"{int(v)}"


def tw(s, size, bold=False):
    return sum(CHAR_W.get(ch, 0.556) for ch in s) * size * (1.05 if bold else 1.0)


fig = go.Figure()
layout = {}
shapes = []
annotations = []

for p in range(36):
    r, c = divmod(p, 9)
    b = c // 3
    k = p + 1
    xs = "x" if k == 1 else f"x{k}"
    ys = "y" if k == 1 else f"y{k}"
    xname = "xaxis" if k == 1 else f"xaxis{k}"
    yname = "yaxis" if k == 1 else f"yaxis{k}"
    x0, x1 = COL_X[c]
    y0, y1 = ROW_Y[r]
    yr = Y_RANGE[r][b]
    yt = Y_TICKS[r][b]
    dec = any(abs(t - round(t)) > 1e-9 for t in yt)
    ytext = [fmt(t, dec) for t in yt]
    step = yt[1] - yt[0]
    yminor = [t + step / 2 for t in [yt[0] - step] + yt]
    layout[xname] = dict(
        domain=[px(x0), px(x1)], range=[-0.99, 0.99], anchor=ys,
        tickvals=X_TICKS, ticktext=["-0.5", "0.0", "0.5"],
        showticklabels=(r in (1, 3)), tickfont=dict(size=3.6, color="#4d4d4d", family=FONT),
        ticks="outside", ticklen=1, tickwidth=0.5, tickcolor="#444",
        showgrid=True, gridcolor="#e6e6e6", gridwidth=0.6,
        minor=dict(tickvals=[-0.75, -0.25, 0.25, 0.75], showgrid=True,
                   gridcolor="#f2f2f2", gridwidth=0.4),
        showline=True, mirror=True, linecolor="#555", linewidth=0.8,
        zeroline=False, fixedrange=True)
    layout[yname] = dict(
        domain=[py(y1), py(y0)], range=yr, anchor=xs,
        tickvals=yt, ticktext=ytext,
        showticklabels=(c % 3 == 0), tickfont=dict(size=3.6, color="#4d4d4d", family=FONT),
        ticks="outside", ticklen=1, tickwidth=0.5, tickcolor="#444",
        showgrid=True, gridcolor="#e6e6e6", gridwidth=0.6,
        minor=dict(tickvals=yminor, showgrid=True, gridcolor="#f2f2f2", gridwidth=0.4),
        showline=True, mirror=True, linecolor="#555", linewidth=0.8,
        zeroline=False, fixedrange=True)

    # LeakyIV ribbon
    lk, lw = LEAKYIV[p], LEAKYIV_SD[p]
    up = [m + s for m, s in zip(lk, lw)]
    lo = [m - s for m, s in zip(lk, lw)]
    fig.add_trace(go.Scatter(x=RHO + RHO[::-1], y=up + lo[::-1], fill="toself",
                             fillcolor=FILL_LEAKY, line=dict(width=0), mode="lines",
                             xaxis=xs, yaxis=ys, showlegend=False, hoverinfo="skip"))
    for name, arr in (("Backdoor", BACKDOOR), ("2SLS", TSLS), ("sisVIVE", SISVIVE)):
        fig.add_trace(go.Scatter(x=RHO, y=arr[p], mode="lines",
                                 line=dict(color=COLORS[name], width=1.0),
                                 xaxis=xs, yaxis=ys, showlegend=False, name=name))
    mb, mw = MBE[p], MBE_SD[p]
    up = [m + s for m, s in zip(mb, mw)]
    lo = [m - s for m, s in zip(mb, mw)]
    fig.add_trace(go.Scatter(x=RHO + RHO[::-1], y=up + lo[::-1], fill="toself",
                             fillcolor=FILL_MBE, line=dict(width=0), mode="lines",
                             xaxis=xs, yaxis=ys, showlegend=False, hoverinfo="skip"))
    fig.add_trace(go.Scatter(x=RHO, y=mb, mode="lines",
                             line=dict(color=COLORS["MBE"], width=1.0),
                             xaxis=xs, yaxis=ys, showlegend=False, name="MBE"))
    fig.add_trace(go.Scatter(x=[RHO[0] - 0.2, RHO[-1] + 0.2], y=[TRUE_EFFECT, TRUE_EFFECT],
                             mode="lines", line=dict(color="rgba(30,30,30,0.85)", width=1.0),
                             xaxis=xs, yaxis=ys, showlegend=False, hoverinfo="skip"))


# ---------------- strips ----------------
def rect(x0, y0, x1, y1, fill, lw=0.8):
    shapes.append(dict(type="rect", xref="paper", yref="paper",
                       x0=px(x0), x1=px(x1), y0=py(y1), y1=py(y0),
                       fillcolor=fill, line=dict(color="#444", width=lw), layer="below"))


def text(x, y, s, size, angle=0, color="#1a1a1a", xanchor="center", yanchor="middle"):
    annotations.append(dict(x=px(x), y=py(y), xref="paper", yref="paper", text=s,
                            showarrow=False, textangle=angle, xanchor=xanchor,
                            yanchor=yanchor, font=dict(size=size, color=color, family=FONT)))


def subtext(cx, cy, parts, angle=0):
    """parts: list of (string, size, is_subscript, bold). Lays out text pieces along the
    reading direction centred at (cx, cy), with subscripts shifted down and shrunk."""
    widths = [tw(s, sz, bd) for s, sz, sub, bd in parts]
    total = sum(widths)
    pos = -total / 2
    for (s, sz, sub, bd), w in zip(parts, widths):
        off = sz * 0.35 if sub else 0.0
        label = f"<b>{s}</b>" if bd else s
        if angle == 0:
            text(cx + pos, cy + off, label, sz, xanchor="left")
        elif angle == 90:      # reading top -> bottom, glyph 'down' points left
            text(cx - off, cy + pos, label, sz, angle=90, yanchor="top")
        else:                  # -90: reading bottom -> top, glyph 'down' points right
            text(cx + off, cy - pos, label, sz, angle=-90, yanchor="bottom")
        pos += w


# SNR_x strips (top row of blocks only)
for b, (bx0, bx1) in enumerate(BLOCK_X):
    rect(bx0, 1.5, bx1, 16.5, "#ebebeb", 1.0)
    subtext((bx0 + bx1) / 2, 8.7, [("SNR", 7, False, False), ("x", 5, True, False),
                                   (f" = {SNRX_LABELS[b]}", 7, False, False)])

# SNR column strips
for c in range(9):
    x0, x1 = COL_X[c]
    for (sy0, sy1) in ((18.5, 26.7), (179.5, 188)):
        rect(x0, sy0, x1, sy1, "#d9d9d9", 0.8)
        text((x0 + x1) / 2, (sy0 + sy1) / 2 + 0.3, f"SNR = {SNR_LABELS[c % 3]}", 5.8)

# d_Y row strips (right of each block)
for b in range(3):
    xr = BLOCK_X[b][1]
    for r in range(4):
        y0, y1 = ROW_Y[r]
        rect(xr + 1, y0, xr + 9, y1, "#d9d9d9", 0.8)
        subtext(xr + 5, (y0 + y1) / 2, [("d", 5.2, False, False), ("Y", 3.8, True, False),
                                        (f" = {DY_LABELS[r % 2]}", 5.2, False, False)],
                angle=90)

# Sigma strips
for s, (sy0, sy1) in enumerate(((16.5, 163), (178.5, 326))):
    rect(2, sy0, 17, sy1, "#ebebeb", 1.0)
    subtext(9.5, (sy0 + sy1) / 2, [("Σ", 7, False, True), ("uu", 5, True, False),
                                   (f" = {SIGMA_LABELS[s]}", 7, False, False)], angle=-90)

# axis titles
for b, (bx0, bx1) in enumerate(BLOCK_X):
    for ty in (172.5, 325.5):
        text((bx0 + bx1) / 2, ty, "Confounding Coefficient ρ", 6)
    yx = bx0 - 13.5
    text(yx, 95, "Average Treatment Effect θ", 6, angle=-90)
    text(yx, 252, "Average Treatment Effect θ", 6, angle=-90)

# legends (one per block)
LEG_START = [65, 320, 577]
SW_OFF = [21, 56, 82, 113, 138]
LAB_OFF = [30, 65, 91, 122, 147]
for b in range(3):
    x0 = LEG_START[b]
    text(x0, 346, "Method", 5.4, xanchor="left")
    for i, m in enumerate(METHODS):
        sx = x0 + SW_OFF[i]
        shapes.append(dict(type="rect", xref="paper", yref="paper",
                           x0=px(sx), x1=px(sx + 6), y0=py(349), y1=py(343),
                           fillcolor=COLORS[m], opacity=0.75, line=dict(width=0)))
        text(x0 + LAB_OFF[i], 346, m, 5.2, xanchor="left")

fig.update_layout(**layout)
fig.update_layout(width=W, height=H, margin=dict(l=0, r=0, t=0, b=0),
                  paper_bgcolor="white", plot_bgcolor="white",
                  shapes=shapes, annotations=annotations, showlegend=False,
                  font=dict(family=FONT))
fig.write_html("out.html", config={"displayModeBar": False},
               post_script="document.body.style.margin='0';document.body.style.padding='0';")
